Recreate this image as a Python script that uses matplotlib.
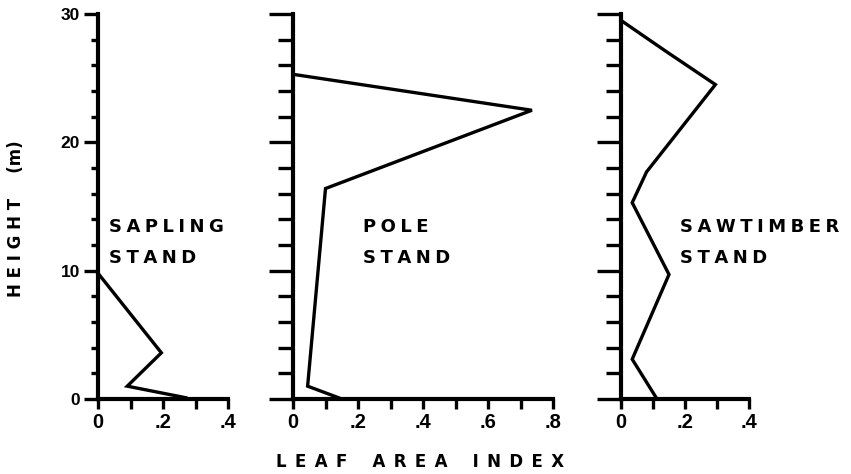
import matplotlib.pyplot as plt
from matplotlib.ticker import MultipleLocator, FuncFormatter

plt.rcParams['font.family'] = ['DejaVu Sans']
plt.rcParams['font.weight'] = 'bold'

# leaf area index (x) against height in metres (y)
sapling_lai = [0.0, 0.195, 0.09, 0.27]
sapling_h = [9.8, 3.6, 1.0, 0.1]

pole_lai = [0.0, 0.735, 0.10, 0.045, 0.14]
pole_h = [25.3, 22.5, 16.4, 1.0, 0.1]

saw_lai = [0.0, 0.14, 0.295, 0.08, 0.035, 0.15, 0.035, 0.11]
saw_h = [29.5, 27.1, 24.5, 17.7, 15.3, 9.7, 3.1, 0.1]

panels = [
    ("SAPLING", sapling_lai, sapling_h, 0.4),
    ("POLE", pole_lai, pole_h, 0.8),
    ("SAWTIMBER", saw_lai, saw_h, 0.4),
]

W, H = 851, 474
fig = plt.figure(figsize=(W / 100, H / 100), dpi=100)

# axes boxes in pixels: left, width
boxes = [(98, 130), (293, 260), (621, 128)]
bottom_px, top_px = 399, 14
SP4 = "\u2005"   # four-per-em space
EN = "\u2002"    # en space


def spaced(s, gap=SP4):
    return gap.join(s)


def fmt(v, pos):
    if abs(v) < 1e-9:
        return "0"
    return ("%.1f" % v).lstrip("0")


for i, ((name, lai, h, xmax), (left, width)) in enumerate(zip(panels, boxes)):
    ax = fig.add_axes([left / W, 1 - bottom_px / H, width / W,
                       (bottom_px - top_px) / H])
    ax.plot(lai, h, color="black", lw=2.4, clip_on=False,
            solid_joinstyle="miter")
    ax.set_xlim(0, xmax)
    ax.set_ylim(0, 30)
    for s in ("top", "right"):
        ax.spines[s].set_visible(False)
    for s in ("left", "bottom"):
        ax.spines[s].set_linewidth(3)
    ax.xaxis.set_major_locator(MultipleLocator(0.2))
    ax.xaxis.set_minor_locator(MultipleLocator(0.1))
    ax.yaxis.set_major_locator(MultipleLocator(10))
    ax.yaxis.set_minor_locator(MultipleLocator(2))
    ax.xaxis.set_major_formatter(FuncFormatter(fmt))
    ax.tick_params(axis="x", which="both", length=7, width=2.4, pad=3)
    if i == 0:
        ax.tick_params(axis="y", which="major", length=10, width=2.4, pad=3)
        ax.tick_params(axis="y", which="minor", length=5, width=2.4)
    else:
        ax.tick_params(axis="y", which="major", length=17, width=2.4,
                       labelleft=False)
        ax.tick_params(axis="y", which="minor", length=11, width=2.4)
    for lab in ax.get_xticklabels():
        lab.set_fontfamily("Liberation Sans")
        lab.set_fontweight("bold")
        lab.set_fontsize(14.5)
    for lab in ax.get_yticklabels():
        lab.set_fontfamily("Liberation Sans")
        lab.set_fontweight("bold")
        lab.set_fontsize(12.5)

    tx = {0: 0.085, 1: 0.27, 2: 0.46}[i]
    ax.text(tx, 0.434, spaced(name), transform=ax.transAxes, fontsize=13,
            fontweight="bold", ha="left", va="baseline")
    ax.text(tx, 0.353, spaced("STAND"), transform=ax.transAxes, fontsize=13,
            fontweight="bold", ha="left", va="baseline")

fig.text(25 / W, 1 - 219 / H, spaced("HEIGHT", " ") + EN * 3 + "(m)",
         rotation=90, ha="right", va="center", fontsize=12,
         fontweight="bold")
fig.text(420 / W, 7 / H,
         spaced("LEAF", EN) + EN * 3 + spaced("AREA", EN) + EN * 3
         + spaced("INDEX", EN),
         ha="center", va="baseline", fontsize=12, fontweight="bold")

fig.savefig("out.png", dpi=100)
